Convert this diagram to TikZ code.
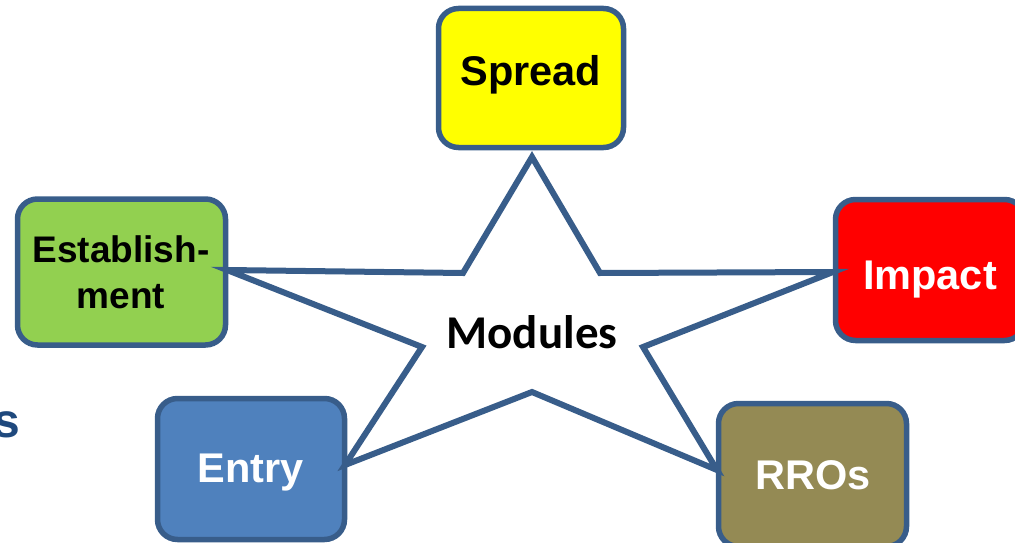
\documentclass[tikz,border=0pt]{standalone}
\usepackage{fontspec}
\setmainfont{Liberation Sans}
\newfontfamily\modfont{Carlito}
\definecolor{edge}{RGB}{56,93,138}
\definecolor{sprfill}{RGB}{255,255,0}
\definecolor{impfill}{RGB}{255,0,0}
\definecolor{estfill}{RGB}{146,208,80}
\definecolor{entfill}{RGB}{79,129,189}
\definecolor{rrofill}{RGB}{148,138,84}
\definecolor{stxt}{RGB}{31,73,125}
\begin{document}
\begin{tikzpicture}[x=1pt,y=-1pt,
  modbox/.style={draw=edge, line width=5.5pt, rounded corners=20pt, inner sep=0pt},
  lbl/.style={font=\bfseries\fontsize{41.5}{48}\selectfont, anchor=base, inner sep=0pt},
  starline/.style={draw=edge, line width=6pt, fill=white, line join=miter}]
\useasboundingbox (0,0) rectangle (1015,543);
\clip (0,0) rectangle (1015,543);
% partial text at left edge
\node[font=\bfseries\fontsize{48}{56}\selectfont, text=stxt, anchor=base east, inner sep=0pt] (cut) at (20,437) {s};
% boxes
\node[modbox, fill=sprfill, minimum width=185pt, minimum height=139pt] (spread) at (531,78) {};
\node[modbox, fill=impfill, minimum width=189pt, minimum height=141pt] (impact) at (930,270) {};
\node[modbox, fill=estfill, minimum width=208pt, minimum height=146pt] (estab) at (121.5,272) {};
\node[modbox, fill=entfill, minimum width=187pt, minimum height=141pt] (entry) at (251,469) {};
\node[modbox, fill=rrofill, minimum width=188pt, minimum height=143pt] (rros) at (812.5,475) {};
% star
\coordinate (tT) at (532,157);
\coordinate (iTR) at (600,273);
\coordinate (tR) at (833,272);
\coordinate (iR) at (643,347);
\coordinate (tBR) at (717,470);
\coordinate (iB) at (532,392);
\coordinate (tBL) at (345,465);
\coordinate (iL) at (422,347);
\coordinate (tL) at (227,270);
\coordinate (iTL) at (463,273);
\path[starline] (tT) -- (iTR) -- (tR) -- (iR) -- (tBR) -- (iB) -- (tBL) -- (iL) -- (tL) -- (iTL) -- cycle;
% labels
\node[lbl, text=black] (spreadt) at (531,85) {Spread};
\node[lbl, text=white] (impactt) at (930,289) {Impact};
\node[lbl, text=white] (entryt) at (251,482) {Entry};
\node[lbl, text=white] (rrost) at (813,489) {RROs};
\node[lbl, text=black, font=\bfseries\fontsize{37}{46}\selectfont, align=center] (estabt) at (121,308) {Establish-\\ment};
\node[anchor=base, inner sep=0pt, font=\modfont\bfseries\fontsize{47}{56}\selectfont] (modt) at (532,348) {Modules};
\end{tikzpicture}
\end{document}
